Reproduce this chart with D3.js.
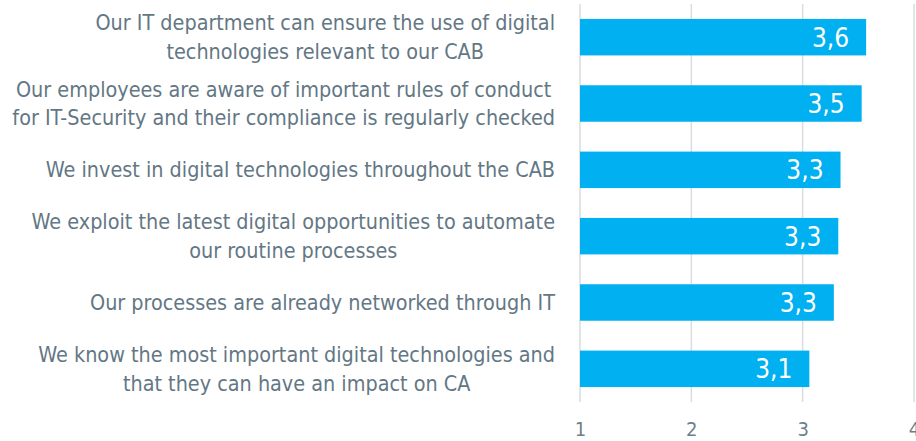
<!DOCTYPE html>
<html>
<head>
<meta charset="utf-8">
<script src="https://cdn.jsdelivr.net/npm/d3@7"></script>
<style>
  html, body { margin: 0; padding: 0; background: #fff; overflow: hidden; }
  svg { display: block; }
</style>
</head>
<body>
<div id="chart"></div>
<script>
// statements, top to bottom (each one split into its lines)
const categories = [
  ["Our IT department can ensure the use of digital", "technologies relevant to our CAB"],
  ["Our employees are aware of important rules of conduct", "for IT-Security and their compliance is regularly checked"],
  ["We invest in digital technologies throughout the CAB"],
  ["We exploit the latest digital opportunities to automate", "our routine processes"],
  ["Our processes are already networked through IT"],
  ["We know the most important digital technologies and", "that they can have an impact on CA"]
];
const values = [3.57, 3.53, 3.34, 3.32, 3.28, 3.06];
const ticks = [1, 2, 3, 4];

const containerWidth = 916, containerHeight = 441;
const margin = { top: 4, right: 1, bottom: 39, left: 580 };
const width = containerWidth - margin.left - margin.right;
const height = containerHeight - margin.top - margin.bottom;

const labelFont = "'DejaVu Sans Condensed', 'Liberation Sans Narrow', sans-serif";
const textColor = "#637784";
const barColor = "#00b0f0";

let locale = d3.formatLocale({ decimal: ",", thousands: ".", grouping: [3], currency: ["", "€"] });
let fmt = locale.format(".1f");

let svg = d3.select("#chart").append("svg")
  .attr("width", containerWidth)
  .attr("height", containerHeight);

let chart = svg.append("g")
  .attr("transform", `translate(${margin.left}, ${margin.top})`);

let xScale = d3.scaleLinear()
  .domain([1, 4])
  .range([0, width - 1]);

let yScale = d3.scaleBand()
  .domain(d3.range(categories.length))
  .range([0, height])
  .paddingInner(0.45)
  .paddingOuter(0.225);

// vertical grid lines
chart.append("g")
  .attr("class", "grid")
  .selectAll("line")
  .data(ticks)
  .join("line")
  .attr("x1", d => xScale(d))
  .attr("x2", d => xScale(d))
  .attr("y1", 0)
  .attr("y2", height)
  .attr("stroke", "#d8dde1")
  .attr("stroke-width", 1.5);

// x axis labels (the "4" runs off the right edge, as in the original)
let xAxis = d3.axisBottom(xScale).tickValues(ticks).tickFormat(d3.format("d")).tickSize(0).tickPadding(0);
chart.append("g")
  .attr("class", "x axis")
  .attr("transform", `translate(0, ${height})`)
  .call(xAxis)
  .call(g => g.select(".domain").remove())
  .call(g => g.selectAll("text")
    .attr("y", 27)
    .attr("dy", "0.35em")
    .attr("fill", "#6e7f8b")
    .attr("font-family", labelFont)
    .attr("font-size", "20px"));

// bars
let bars = chart.selectAll(".bar")
  .data(values)
  .join("g")
  .attr("class", "bar");

bars.append("rect")
  .attr("x", xScale(1))
  .attr("y", (d, i) => yScale(i))
  .attr("width", d => xScale(d) - xScale(1))
  .attr("height", yScale.bandwidth())
  .attr("fill", barColor);

bars.append("text")
  .attr("x", d => xScale(d) - 17)
  .attr("y", (d, i) => yScale(i) + yScale.bandwidth() / 2)
  .attr("dy", "0.36em")
  .attr("text-anchor", "end")
  .attr("fill", "#fff")
  .attr("font-family", labelFont)
  .attr("font-size", "26px")
  .text(d => fmt(d));

// category labels: lines centred with each other, block right aligned
const labelRight = 555, lineHeight = 28.5;
let labels = svg.append("g")
  .attr("class", "y labels")
  .selectAll("text")
  .data(categories)
  .join("text")
  .attr("fill", textColor)
  .attr("font-family", labelFont)
  .attr("font-size", "21.4px");

labels.each(function (lines, i) {
  let t = d3.select(this);
  let cy = margin.top + yScale(i) + yScale.bandwidth() / 2;
  let spans = t.selectAll("tspan")
    .data(lines)
    .join("tspan")
    .attr("y", (d, j) => cy + (j - (lines.length - 1) / 2) * lineHeight)
    .attr("dy", "0.35em")
    .text(d => d);
  let maxW = d3.max(spans.nodes(), n => n.getComputedTextLength());
  spans.attr("x", labelRight - maxW / 2).attr("text-anchor", "middle");
});
</script>
</body>
</html>
